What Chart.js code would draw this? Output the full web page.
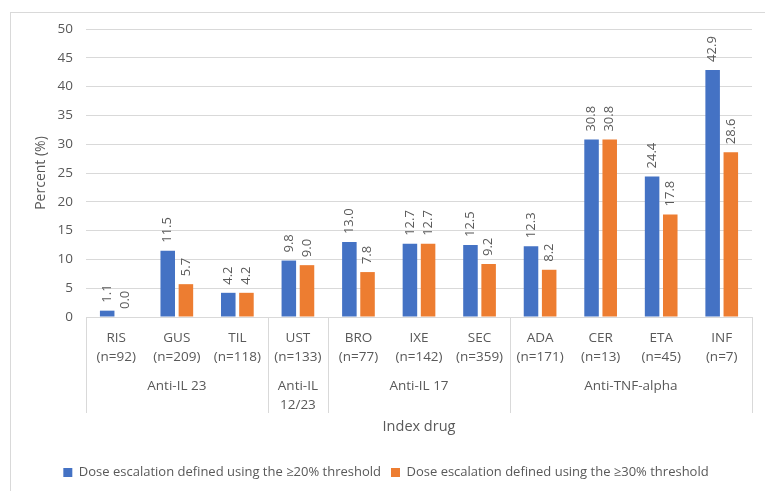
<!DOCTYPE html>
<html>
<head>
<meta charset="utf-8">
<script src="https://cdn.jsdelivr.net/npm/chart.js@4"></script>
<style>
  body { margin: 0; background: #fff; }
  #wrap { position: relative; width: 765px; height: 491px; overflow: hidden; }
  #frame { position: absolute; left: 10px; top: 12px; width: 800px; height: 520px; border: 1px solid #d9d9d9; box-sizing: border-box; }
  canvas { position: absolute; left: 0; top: 0; }
</style>
</head>
<body>
<div id="wrap">
  <div id="frame"></div>
  <canvas id="chart" width="765" height="491"></canvas>
</div>
<script>
// Données du graphique
const drugs = ['RIS', 'GUS', 'TIL', 'UST', 'BRO', 'IXE', 'SEC', 'ADA', 'CER', 'ETA', 'INF'];
const sizes = ['(n=92)', '(n=209)', '(n=118)', '(n=133)', '(n=77)', '(n=142)', '(n=359)', '(n=171)', '(n=13)', '(n=45)', '(n=7)'];
const threshold20 = [1.1, 11.5, 4.2, 9.8, 13.0, 12.7, 12.5, 12.3, 30.8, 24.4, 42.9];
const threshold30 = [0.0, 5.7, 4.2, 9.0, 7.8, 12.7, 9.2, 8.2, 30.8, 17.8, 28.6];
const groupNames = [['Anti-IL 23'], ['Anti-IL', '12/23'], ['Anti-IL 17'], ['Anti-TNF-alpha']];
const groupStart = [0, 3, 4, 7];
const groupEnd = [2, 3, 6, 10];

const FONT = "'Open Sans', sans-serif";
const GREY = '#595959';

// Étiquettes de valeur tournées au-dessus des barres
const valueLabels = {
    id: 'valueLabels',
    afterDatasetsDraw(chart) {
        const ctx = chart.ctx;
        ctx.save();
        ctx.font = '13px ' + FONT;
        ctx.fillStyle = GREY;
        ctx.textAlign = 'left';
        ctx.textBaseline = 'middle';
        chart.data.datasets.forEach((ds, i) => {
            chart.getDatasetMeta(i).data.forEach((bar, j) => {
                ctx.save();
                ctx.translate(bar.x, bar.y - 8);
                ctx.rotate(-Math.PI / 2);
                ctx.fillText(ds.data[j].toFixed(1), 0, 0);
                ctx.restore();
            });
        });
        ctx.restore();
    }
};

// Groupes de médicaments sous l'axe des x
const groupAxis = {
    id: 'groupAxis',
    afterDraw(chart) {
        const ctx = chart.ctx;
        const x = chart.scales.x;
        const half = (x.getPixelForValue(1) - x.getPixelForValue(0)) / 2;
        const top = chart.chartArea.bottom;
        ctx.save();
        ctx.strokeStyle = '#d9d9d9';
        ctx.lineWidth = 1;
        const edges = [groupStart[0]].concat(groupEnd.map(e => e + 1));
        edges.forEach(e => {
            const px = Math.round(x.getPixelForValue(e) - half) + 0.5;
            ctx.beginPath();
            ctx.moveTo(px, top);
            ctx.lineTo(px, top + 96);
            ctx.stroke();
        });
        ctx.font = '13.5px ' + FONT;
        ctx.fillStyle = GREY;
        ctx.textAlign = 'center';
        ctx.textBaseline = 'middle';
        groupNames.forEach((lines, g) => {
            const cx = (x.getPixelForValue(groupStart[g]) + x.getPixelForValue(groupEnd[g])) / 2;
            lines.forEach((t, k) => ctx.fillText(t, cx, top + 69 + k * 19));
        });
        ctx.restore();
    }
};

new Chart(document.getElementById('chart'), {
    type: 'bar',
    data: {
        labels: drugs.map((d, i) => [d, sizes[i]]),
        datasets: [{
            label: 'Dose escalation defined using the \u226520% threshold',
            data: threshold20,
            backgroundColor: '#4472C4',
            categoryPercentage: 0.6,
            barPercentage: 0.8
        }, {
            label: 'Dose escalation defined using the \u226530% threshold',
            data: threshold30,
            backgroundColor: '#ED7D31',
            categoryPercentage: 0.6,
            barPercentage: 0.8
        }]
    },
    options: {
        responsive: false,
        animation: false,
        layout: { padding: { left: 20, right: 13, top: 29, bottom: 2 } },
        plugins: {
            legend: {
                position: 'bottom',
                labels: { font: { family: FONT, size: 13 }, color: GREY, boxWidth: 9, boxHeight: 9, padding: 10 }
            },
            tooltip: { enabled: false }
        },
        scales: {
            x: {
                grid: { display: false },
                border: { display: false },
                ticks: { font: { family: FONT, size: 13.5, lineHeight: 1.4 }, color: GREY, padding: 4, maxRotation: 0 },
                title: { display: true, text: 'Index drug', font: { family: FONT, size: 14.5 }, color: GREY, padding: { top: 40, bottom: 20 } },
                afterFit(scale) { scale.height = 139; }
            },
            y: {
                min: 0,
                max: 50,
                ticks: { stepSize: 5, font: { family: FONT, size: 13.5 }, color: GREY, padding: 13 },
                grid: { color: '#d9d9d9', drawTicks: false },
                border: { display: false },
                title: { display: true, text: 'Percent (%)', font: { family: FONT, size: 14 }, color: GREY, padding: { top: 13, bottom: 2 } },
                afterFit(scale) { scale.width = 66; }
            }
        }
    },
    plugins: [valueLabels, groupAxis]
});
</script>
</body>
</html>
